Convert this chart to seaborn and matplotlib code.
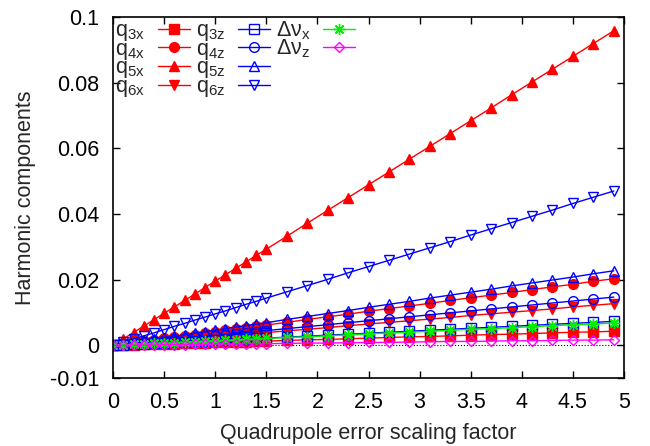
import numpy as np
import pandas as pd
import matplotlib
matplotlib.use('Agg')
import matplotlib.pyplot as plt
from matplotlib.lines import Line2D
import seaborn as sns

# scaling factor
x = [0, 0.1, 0.2, 0.3, 0.4, 0.5, 0.6, 0.7, 0.8, 0.9, 1.0, 1.1, 1.2, 1.3, 1.4, 1.5,
     1.7, 1.9, 2.1, 2.3, 2.5, 2.7, 2.9, 3.1, 3.3, 3.5, 3.7, 3.9, 4.1, 4.3, 4.5, 4.7, 4.9]

q3x = [0, .0001, .0002, .0003, .0004, .0004, .0005, .0006, .0007, .0008, .0009, .0010, .0011, .0011, .0012, .0013,
       .0015, .0017, .0018, .0020, .0022, .0024, .0026, .0027, .0029, .0031, .0033, .0034, .0036, .0038, .0040, .0041, .0043]
q4x = [0, .0004, .0008, .0012, .0017, .0021, .0025, .0029, .0033, .0037, .0041, .0046, .0050, .0054, .0058, .0062,
       .0070, .0079, .0087, .0095, .0104, .0112, .0120, .0128, .0137, .0145, .0153, .0161, .0170, .0178, .0186, .0195, .0203]
q5x = [0, .0020, .0039, .0059, .0078, .0098, .0117, .0137, .0156, .0176, .0196, .0215, .0235, .0254, .0274, .0293,
       .0332, .0372, .0411, .0450, .0489, .0528, .0567, .0606, .0645, .0684, .0723, .0763, .0802, .0841, .0880, .0919, .0958]
q6x = [0, .0003, .0005, .0008, .0010, .0013, .0016, .0018, .0021, .0023, .0026, .0028, .0031, .0034, .0036, .0039,
       .0044, .0049, .0054, .0060, .0065, .0070, .0075, .0080, .0085, .0091, .0096, .0101, .0106, .0111, .0117, .0122, .0127]
q3z = [0, .0001, .0003, .0004, .0006, .0007, .0009, .0010, .0012, .0013, .0015, .0016, .0018, .0019, .0021, .0022,
       .0025, .0028, .0031, .0034, .0037, .0040, .0043, .0046, .0049, .0052, .0055, .0058, .0061, .0064, .0067, .0070, .0073]
q4z = [0, .0003, .0006, .0009, .0012, .0015, .0018, .0021, .0024, .0027, .0030, .0033, .0036, .0039, .0042, .0045,
       .0051, .0057, .0063, .0069, .0075, .0081, .0087, .0093, .0099, .0105, .0111, .0117, .0123, .0129, .0135, .0141, .0147]
q5z = [0, .0005, .0009, .0014, .0019, .0023, .0028, .0032, .0037, .0042, .0046, .0051, .0056, .0060, .0065, .0069,
       .0079, .0088, .0097, .0106, .0116, .0125, .0134, .0144, .0153, .0162, .0171, .0181, .0190, .0199, .0208, .0218, .0227]
q6z = [0, .0010, .0019, .0029, .0038, .0048, .0058, .0067, .0077, .0086, .0096, .0105, .0115, .0125, .0134, .0144,
       .0163, .0182, .0201, .0221, .0240, .0259, .0278, .0297, .0316, .0336, .0355, .0374, .0393, .0412, .0432, .0451, .0470]
dnux = [0, .0001, .0003, .0004, .0006, .0007, .0008, .0010, .0011, .0013, .0014, .0015, .0017, .0018, .0019, .0021,
        .0024, .0026, .0029, .0032, .0035, .0038, .0040, .0043, .0046, .0049, .0051, .0054, .0057, .0060, .0063, .0065, .0068]
dnuz = [0, .0000, .0001, .0001, .0001, .0002, .0002, .0002, .0003, .0003, .0004, .0004, .0004, .0005, .0005, .0005,
        .0006, .0007, .0007, .0008, .0009, .0009, .0010, .0011, .0012, .0012, .0013, .0014, .0014, .0015, .0016, .0016, .0017]

labels = ['$q_{3x}$', '$q_{4x}$', '$q_{5x}$', '$q_{6x}$',
          '$q_{3z}$', '$q_{4z}$', '$q_{5z}$', '$q_{6z}$',
          'Δν$_x$', 'Δν$_z$']
series = [q3x, q4x, q5x, q6x, q3z, q4z, q5z, q6z, dnux, dnuz]

sns.set_style('ticks')
plt.rcParams['font.family'] = ['Liberation Sans', 'DejaVu Sans']
plt.rcParams['mathtext.default'] = 'regular'

# style of each curve (gnuplot-like)
styles = [
    dict(color='#ff0000', marker='s', ms=7, mfc='#ff0000'),
    dict(color='#ff0000', marker='o', ms=7, mfc='#ff0000'),
    dict(color='#ff0000', marker='^', ms=7, mfc='#ff0000'),
    dict(color='#ff0000', marker='v', ms=7, mfc='#ff0000'),
    dict(color='#0000ff', marker='s', ms=7, mfc='none'),
    dict(color='#0000ff', marker='o', ms=7, mfc='none'),
    dict(color='#0000ff', marker='^', ms=7, mfc='none'),
    dict(color='#0000ff', marker='v', ms=7, mfc='none'),
    dict(color='#00ee00', marker=(8, 2, 0), ms=8, mfc='#00ee00'),
    dict(color='#ff00ff', marker='D', ms=5.5, mfc='none'),
]

fig = plt.figure(figsize=(6.5, 4.46), dpi=100)
ax = fig.add_axes([0.174, 0.152, 0.786, 0.810])

ax.axhline(0, color='black', ls=':', lw=0.8, zorder=1)

for lab, ys, st in zip(labels, series, styles):
    c = st['color']
    sns.lineplot(x=x, y=ys, ax=ax, label=lab, color=c, marker=st['marker'],
                 markersize=st['ms'], markerfacecolor=st['mfc'], markeredgecolor=c,
                 markeredgewidth=1.0, linewidth=1.0, estimator=None, sort=False)

ax.set_xlim(0, 5)
ax.set_ylim(-0.01, 0.1)
ax.set_xticks(np.arange(0, 5.01, 0.5))
ax.set_xticklabels(['0', '0.5', '1', '1.5', '2', '2.5', '3', '3.5', '4', '4.5', '5'])
ax.set_yticks([-0.01, 0, 0.02, 0.04, 0.06, 0.08, 0.1])
ax.set_yticklabels(['-0.01', '0', '0.02', '0.04', '0.06', '0.08', '0.1'])
ax.tick_params(direction='in', top=True, right=True, length=5, width=1,
               labelsize=15.5, colors='black', pad=10)
for s in ax.spines.values():
    s.set_linewidth(1.2)
    s.set_color('black')

ax.set_xlabel('Quadrupole error scaling factor', fontsize=15.5, labelpad=7)
ax.set_ylabel('Harmonic components', fontsize=15.5, labelpad=10)

# 4 rows per column like the gnuplot key: pad with two blank entries
handles, labs = ax.get_legend_handles_labels()
for _ in range(2):
    handles.append(Line2D([], [], linestyle='none', marker=None))
    labs.append(' ')
ax.legend(handles, labs, loc='upper left', ncol=3, frameon=False, markerfirst=False,
          fontsize=15.5, handlelength=1.5, handletextpad=0.6, columnspacing=0.25,
          labelspacing=-0.2, borderaxespad=0.05, borderpad=0.05)

fig.savefig('out.png', dpi=100)
